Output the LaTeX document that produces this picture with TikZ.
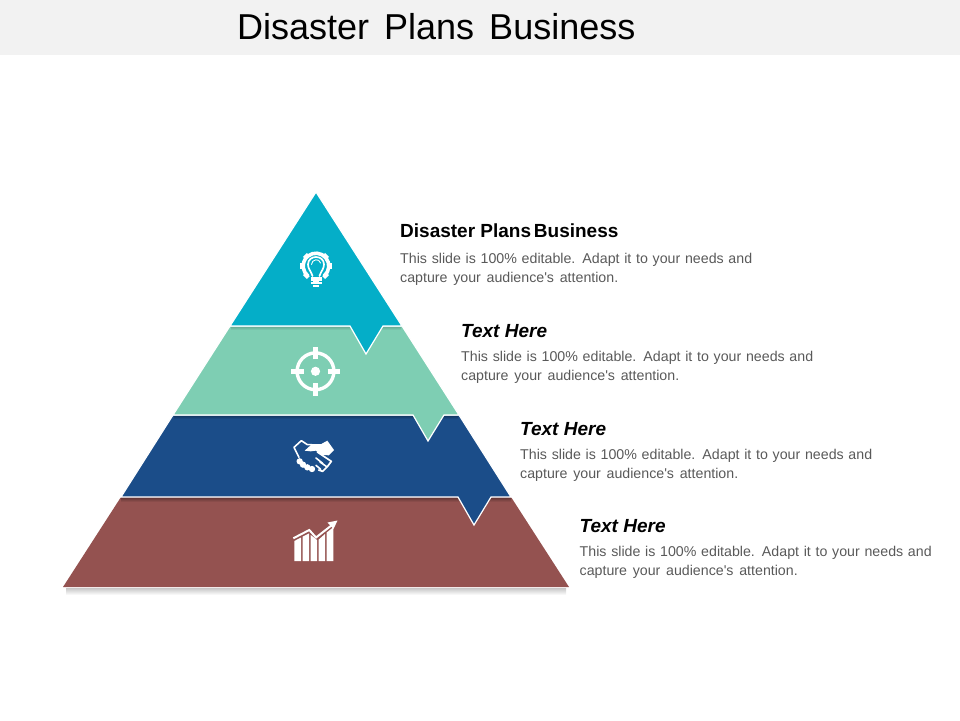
\documentclass[tikz,border=0pt]{standalone}
\usepackage{fontspec}
\usepackage{tikz}
\setmainfont{Liberation Sans}
\newfontfamily\bodyfont{Liberation Sans}
\definecolor{bandgray}{HTML}{F2F2F2}
\definecolor{tealtop}{HTML}{04AEC8}
\definecolor{minttwo}{HTML}{7ECEB3}
\definecolor{navythree}{HTML}{1B4D89}
\definecolor{brownfour}{HTML}{945250}
\definecolor{bodygray}{HTML}{595959}
\tikzset{
  layer/.style={draw=white,line width=1.2pt,line join=miter},
  heading/.style={font=\fontsize{19}{23}\selectfont\bfseries,text=black,inner sep=0pt,anchor=base west},
  bodytext/.style={font=\bodyfont\fontsize{14.2}{19}\selectfont,text=bodygray,inner sep=0pt,align=left,text width=370pt,anchor=north west},
  icon/.style={draw=white,line width=1.6pt,line cap=round,line join=round},
  iconfill/.style={fill=white,draw=none}
}
\newcommand{\bodylines}{This slide is 100\% editable. Adapt it to your needs and\\capture\hspace{1pt} your\hspace{1pt} audience's\hspace{1pt} attention.}
\begin{document}
\begin{tikzpicture}[x=1pt,y=-1pt]
    \useasboundingbox (0,0) rectangle (960,720);
    \fill[bandgray] (0,0) rectangle (960,55); % title band
    \node[font=\fontsize{36}{42}\selectfont,inner sep=0pt,anchor=base west] (title) at (237,39) {Disaster\hspace{5pt} Plans\hspace{5pt} Business};

    % shadow under the base
    \shade[top color=black!22,bottom color=white] (66,588) rectangle (566,595);

    % layers, lowest first
    \fill[brownfour] (121,497) -- (511,497) -- (569,587) -- (63,587) -- cycle;
    \shade[top color=brownfour!70!black,bottom color=brownfour] (121,498) rectangle (511,502);
    \draw[layer,fill=navythree] (173,415) -- (459,415) -- (511,497) -- (491,497) -- (474,525) -- (458,497) -- (121,497) -- cycle;
    \shade[top color=navythree!75!black,bottom color=navythree] (174,416) rectangle (458,419);
    \draw[layer,fill=minttwo] (230,326) -- (402,326) -- (459,415) -- (444,415) -- (428,441) -- (413,415) -- (173,415) -- cycle;
    \shade[top color=minttwo!85!black,bottom color=minttwo] (231,327) rectangle (401,330);
    \draw[layer,fill=tealtop] (316,192) -- (402,326) -- (383,326) -- (366,354) -- (350,326) -- (230,326) -- cycle;

    % bulb and gear
    \begin{scope}[shift={(316,266)}]
        \foreach \a in {-90,-45,0,45,135,180,225}
            \fill[white,rotate=\a] (11.5,-2.8) rectangle (15.6,2.8); % teeth
        \draw[icon,line width=3.6pt,line cap=butt] (50:12.8) arc (50:-230:12.8);
        \draw[icon,line width=1.7pt] (-3.5,10) .. controls (-5,5) and (-8,3) .. (-8,-1.5) .. controls (-8,-11.5) and (8,-11.5) .. (8,-1.5) .. controls (8,3) and (5,5) .. (3.5,10);
        \draw[icon,line width=0.9pt] (-4.5,-1.5) .. controls (-4.5,-7) and (3.5,-8) .. (4.5,-3);
        \fill[iconfill] (-5.5,11) rectangle (5.5,14.5);
        \fill[iconfill] (-5.5,15.5) rectangle (5.5,18);
        \fill[iconfill] (-3,19) rectangle (3,21);
    \end{scope}

    % target
    \begin{scope}[shift={(315.5,371.3)}]
        \draw[icon,line width=3.4pt] (0,0) circle [radius=18.4];
        \fill[iconfill] (0,0) circle [radius=4.6];
        \foreach \a in {0,90,180,270}
            \draw[icon,line width=4.6pt,line cap=butt,rotate=\a] (12,0) -- (24.5,0); % cross hair
    \end{scope}

    % handshake
    \begin{scope}[shift={(288,434)},x=0.3333pt,y=-0.3333pt]
        \draw[icon,line width=1.6pt] (33,70) -- (18,40) -- (40,20) -- (58,32) -- (72,32);
        \fill[iconfill] (50,50) -- (72,30) -- (100,30) -- (118,20) -- (138,48) -- (122,64) -- (100,62) -- (84,50) -- (68,52) -- cycle;
        \foreach \x/\y in {35/82,45/92,58/100,72/105}
            \fill[iconfill] (\x,\y) circle [radius=9.5];
        \draw[icon,line width=1.7pt] (88,54) -- (130,82) -- (118,98) -- (104,112) -- (92,108);
        \foreach \x/\y/\u/\v in {84/72/104/88,96/84/116/98,84/94/98/106}
            \draw[icon,line width=1.6pt] (\x,\y) -- (\u,\v); % fingers
    \end{scope}

    % chart
    \foreach \xa/\xb/\ta/\tb in {294.3/301/541/537.5,302.7/309/536.6/533.4,310.7/317/535/540,318.7/325/539.5/534,326.7/333.3/532.5/527.2}
        \fill[white] (\xa,561) -- (\xa,\ta) -- (\xb,\tb) -- (\xb,561) -- cycle;
    \draw[white,line width=2pt,line join=miter] (293.3,538.3) -- (309.3,530) -- (316,537.5) -- (332,525);
    \fill[white] (337.5,520.5) -- (327.5,522.5) -- (333.5,529) -- cycle;

    % texts
    \node[heading] (headone) at (400,237) {Disaster Plans\hspace{-2.5pt} Business};
    \node[bodytext] (bodyone) at (400,253) {\bodylines};
    \foreach \nm/\x/\y in {two/461/337,three/520/435,four/579.5/532}{
        \node[heading,font=\fontsize{19}{23}\selectfont\bfseries\itshape] (head\nm) at (\x,\y) {Text Here};
        \node[bodytext] (body\nm) at (\x,\y+14) {\bodylines};
    }
\end{tikzpicture}
\end{document}
